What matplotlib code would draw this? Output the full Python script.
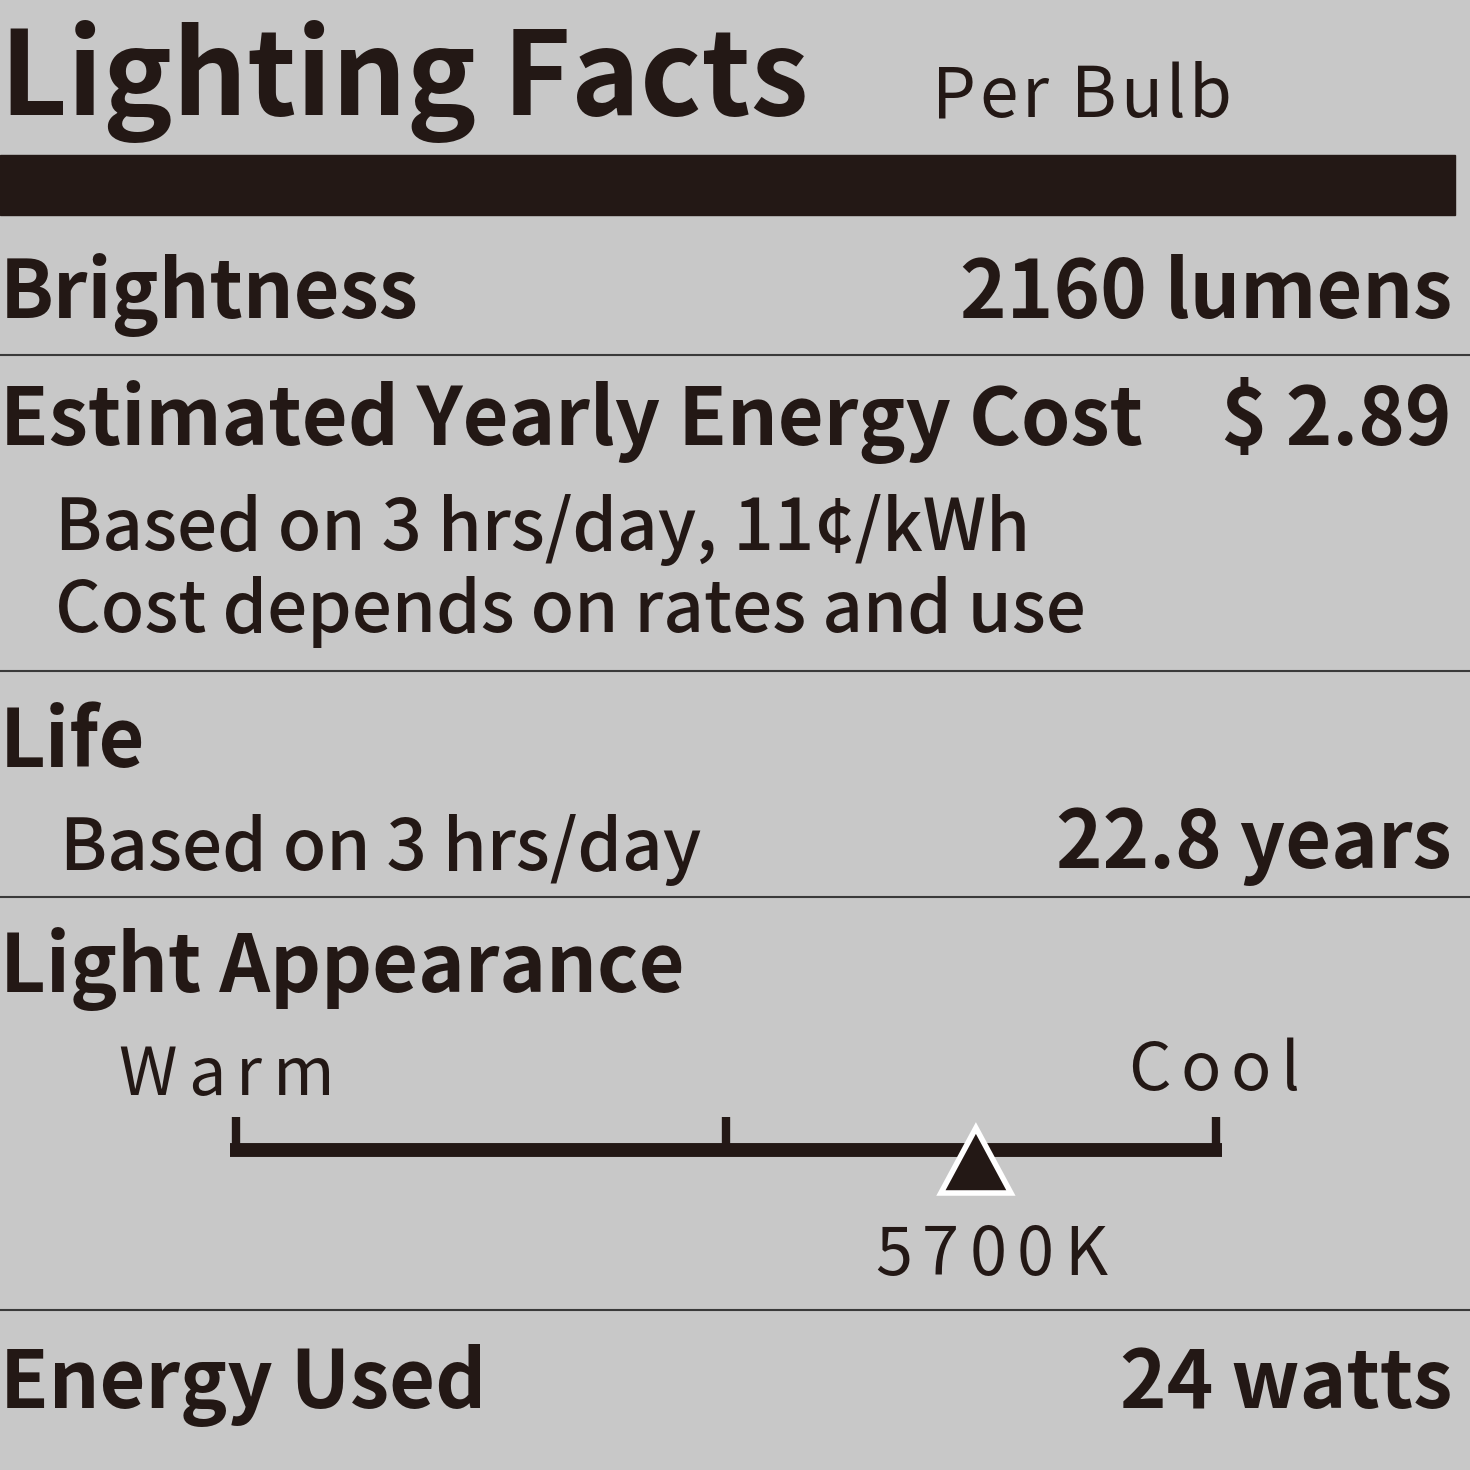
import matplotlib.pyplot as plt
from matplotlib.patches import Rectangle, Polygon

plt.rcParams['font.family'] = ['Noto Sans CJK JP', 'DejaVu Sans']

BG = '#c8c8c8'
INK = '#231815'

# label content
title = 'Lighting Facts'
subtitle = 'Per Bulb'
rows_bold = ['Brightness', 'Estimated Yearly Energy Cost', 'Life', 'Light Appearance', 'Energy Used']
values_bold = ['2160 lumens', '$ 2.89', '', '', '24 watts']
cost_notes = ['Based on 3 hrs/day, 11¢/kWh', 'Cost depends on rates and use']
life_note = 'Based on 3 hrs/day'
life_value = '22.8 years'
scale_ends = ['Warm', 'Cool']
scale_ticks = [0.0, 0.5, 1.0]
cct_position = 0.755  # fraction of the warm -> cool scale
cct_label = '5700K'

fig = plt.figure(figsize=(14.7, 14.7), dpi=100, facecolor=BG)
ax = fig.add_axes([0, 0, 1, 1])
ax.set_xlim(0, 1470)
ax.set_ylim(1470, 0)
ax.axis('off')
ax.set_facecolor(BG)
renderer = fig.canvas.get_renderer()


def spaced_text(x, y, s, width, ha='left', **kw):
    # draw string letter by letter so it spans the given pixel width
    pieces = [ax.text(0, y, c, va='baseline', **kw) for c in s]
    widths = [p.get_window_extent(renderer).width for p in pieces]
    gap = (width - sum(widths)) / max(len(s) - 1, 1)
    start = x - width / 2 if ha == 'center' else x
    for p, w in zip(pieces, widths):
        p.set_x(start)
        start += w + gap


ax.text(0, 115, title, fontsize=84, fontweight='bold', color=INK, va='baseline')
spaced_text(932, 117, subtitle, 300, fontsize=50, color=INK)
ax.add_patch(Rectangle((0, 155), 1455, 60, color=INK))

row_y = [318, 445, 767, 992, 1408]
for name, val, y in zip(rows_bold, values_bold, row_y):
    ax.text(0, y, name, fontsize=57, fontweight='bold', color=INK, va='baseline')
    if val:
        ax.text(1452, y, val, fontsize=57, fontweight='bold', color=INK, va='baseline', ha='right')

for note, y in zip(cost_notes, [550, 632]):
    ax.text(55, y, note, fontsize=51, fontweight='medium', color=INK, va='baseline')
ax.text(60, 870, life_note, fontsize=51, fontweight='medium', color=INK, va='baseline')
ax.text(1452, 868, life_value, fontsize=57, fontweight='bold', color=INK, va='baseline', ha='right')

for y in [355, 671, 897, 1310]:
    ax.plot([0, 1470], [y, y], color='#3a3a3a', lw=1.5)

# colour temperature scale
x0, x1, ybar = 236, 1216, 1150
spaced_text(118, 1095, scale_ends[0], 217, fontsize=48, color=INK)
spaced_text(1128, 1090, scale_ends[1], 172, fontsize=48, color=INK)
ax.plot([x0 - 6, x1 + 6], [ybar, ybar], color=INK, lw=10, solid_capstyle='butt')
for t in scale_ticks:
    xt = x0 + t * (x1 - x0)
    ax.plot([xt, xt], [ybar, 1117], color=INK, lw=6, solid_capstyle='butt')
xc = x0 + cct_position * (x1 - x0)
ax.add_patch(Polygon([(xc, 1128), (xc - 35, 1193), (xc + 35, 1193)],
                     facecolor=INK, edgecolor='white', lw=4, joinstyle='miter', zorder=5))
spaced_text(xc + 15, 1275, cct_label, 232, ha='center', fontsize=48, color=INK)

fig.savefig('out.png', dpi=100, facecolor=BG)
